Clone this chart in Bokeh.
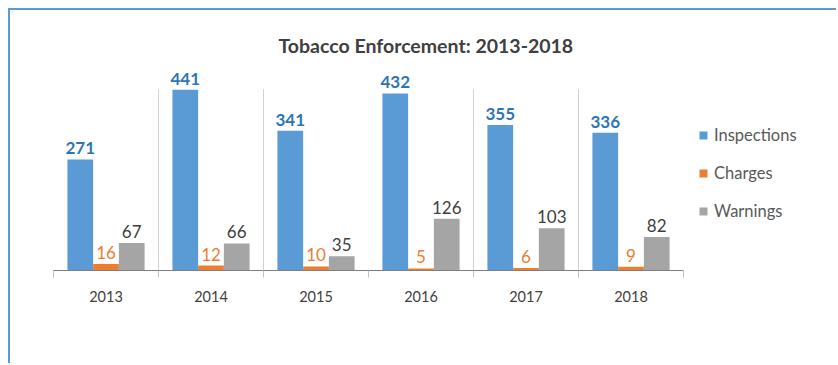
import numpy as np
from bokeh.plotting import figure
from bokeh.models import ColumnDataSource, FixedTicker, Legend, LegendItem, Range1d
from bokeh.transform import dodge
from bokeh.core.properties import value
from bokeh.embed import file_html
from bokeh.resources import INLINE

# ---- data ----
years = ["2013", "2014", "2015", "2016", "2017", "2018"]
inspections = [271, 441, 341, 432, 355, 336]
charges = [16, 12, 10, 5, 6, 9]
warnings = [67, 66, 35, 126, 103, 82]
series_names = ["Inspections", "Charges", "Warnings"]
title_text = "Tobacco Enforcement: 2013-2018"
divider_after = ["2013", "2014", "2016", "2017"]

# ---- style ----
FONT = "Lato"
C_INS, C_CHG, C_WRN = "#5B9BD5", "#ED7D31", "#A5A5A5"
W, H = 828, 355
LEFT, TOP, BOTTOM = 43, 55, 95
CAT_PX = 105
BAR_W = 0.245
Y_MAX = 500

pos = np.arange(len(years)) + 0.5
src = ColumnDataSource(dict(
    x=pos,
    inspections=inspections, charges=charges, warnings=warnings,
    ins_lbl=[str(v) for v in inspections],
    chg_lbl=[str(v) for v in charges],
    wrn_lbl=[str(v) for v in warnings],
))

p = figure(width=W, height=H, output_backend="svg", toolbar_location=None,
           x_range=Range1d(0, (W - LEFT) / CAT_PX), y_range=Range1d(0, Y_MAX),
           min_border_left=LEFT, min_border_right=0, min_border_top=TOP,
           min_border_bottom=BOTTOM,
           margin=(8, 0, 0, 8),
           styles={"border-top": "2px solid #5B9BD5", "border-left": "2px solid #5B9BD5"})
p.background_fill_color = "white"
p.border_fill_color = "white"
p.outline_line_color = None
p.grid.visible = False
p.yaxis.visible = False

p.title.text = title_text
p.title.align = "left"
p.title.offset = 225
p.title.text_font = FONT
p.title.text_font_size = "19.5px"
p.title.text_font_style = "bold"
p.title.text_color = "#404040"
p.title.standoff = 18

# dividers between categories
div_x = [years.index(y) + 1 for y in divider_after]
p.segment(x0=div_x, x1=div_x, y0=[0] * len(div_x), y1=[442] * len(div_x),
          line_color="#D0D0D0", line_width=1)

offs = [-BAR_W, 0, BAR_W]
cols = ["inspections", "charges", "warnings"]
lbls = ["ins_lbl", "chg_lbl", "wrn_lbl"]
colors = [C_INS, C_CHG, C_WRN]
lbl_colors = ["#2E75B6", "#ED7D31", "#404040"]
lbl_styles = ["bold", "normal", "normal"]
renderers = []
for off, col, lb, c, lc, ls in zip(offs, cols, lbls, colors, lbl_colors, lbl_styles):
    r = p.vbar(x=dodge("x", off, range=p.x_range), top=col, width=BAR_W,
               source=src, fill_color=c, line_color=None)
    renderers.append(r)
    p.text(x=dodge("x", off, range=p.x_range), y=col, text=lb, source=src,
           text_align="center", text_baseline="bottom", y_offset=-5,
           text_font=value(FONT), text_font_size="17px", text_font_style=ls,
           text_color=lc)

ax = p.xaxis[0]
ax.ticker = FixedTicker(ticks=list(pos), minor_ticks=list(range(len(years) + 1)))
ax.major_label_overrides = {float(c): y for c, y in zip(pos, years)}
ax.bounds = (0, len(years))
ax.axis_line_color = "#7F7F7F"
ax.axis_line_width = 1
ax.major_tick_line_color = None
ax.major_tick_out = 0
ax.major_tick_in = 0
ax.minor_tick_line_color = "#BFBFBF"
ax.minor_tick_out = 7
ax.minor_tick_in = 0
ax.major_label_standoff = 13
ax.major_label_text_font = FONT
ax.major_label_text_font_size = "14.5px"
ax.major_label_text_color = "#404040"

legend = Legend(items=[LegendItem(label=n, renderers=[r]) for n, r in zip(series_names, renderers)],
                location=(645, 49), orientation="vertical",
                glyph_width=10, glyph_height=10, label_standoff=6,
                label_height=20, spacing=18, padding=0, margin=0,
                label_text_font=FONT, label_text_font_size="16.5px",
                label_text_color="#595959",
                border_line_color=None, background_fill_alpha=0)
p.add_layout(legend, "center")

open("out.html", "w").write(file_html(p, INLINE))
